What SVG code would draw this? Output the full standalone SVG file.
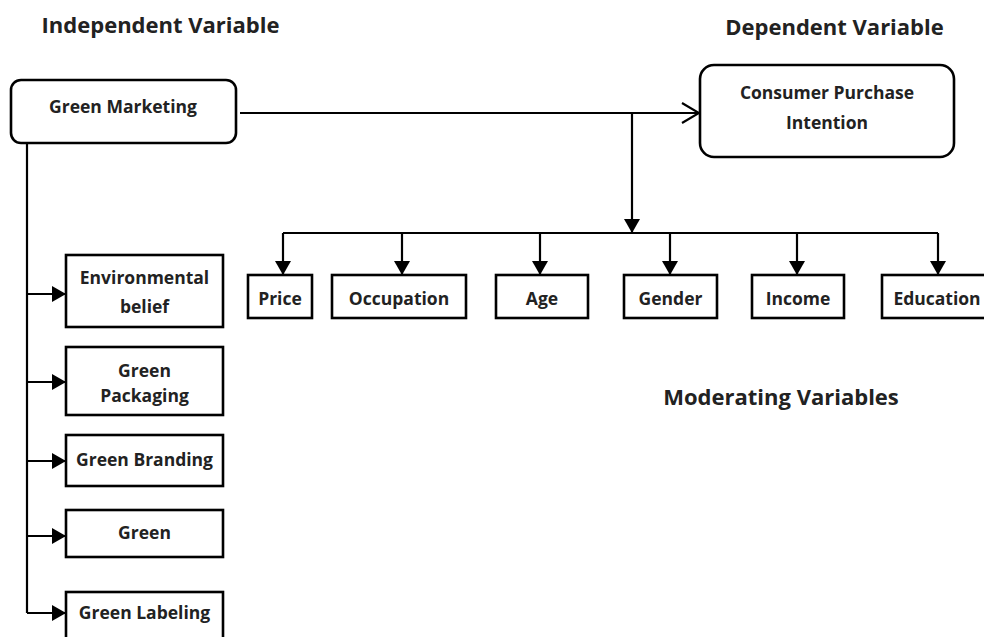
<svg xmlns="http://www.w3.org/2000/svg" width="984" height="637" viewBox="0 0 984 637">
<defs>
<style>
.box{fill:#fff;stroke:#000;stroke-width:2.6}
.ln{fill:none;stroke:#000;stroke-width:2.2}
.t{font-family:"Open Sans","Liberation Sans",sans-serif;font-weight:bold;font-size:17.5px;fill:#222;text-anchor:middle}
.h{font-family:"Open Sans","Liberation Sans",sans-serif;font-weight:bold;font-size:22px;fill:#222;text-anchor:middle}
</style>
<marker id="ah" viewBox="0 0 14 16" refX="14" refY="8" markerWidth="14" markerHeight="16" markerUnits="userSpaceOnUse" orient="auto">
<path d="M0,0 L14,8 L0,16 Z" fill="#000"/>
</marker>
<marker id="oh" viewBox="0 0 20 22" refX="18" refY="11" markerWidth="20" markerHeight="22" markerUnits="userSpaceOnUse" orient="auto">
<path d="M1,1 L18,11 L1,21" fill="none" stroke="#000" stroke-width="2.2"/>
</marker>
</defs>
<rect width="984" height="637" fill="#fff"/>
<text class="h" x="160.5" y="33">Independent Variable</text>
<text class="h" x="834.5" y="35">Dependent Variable</text>
<text class="h" x="781" y="405">Moderating Variables</text>
<g id="connectors">
<path class="ln" d="M240,113 H699" marker-end="url(#oh)"/>
<path class="ln" d="M632,113 V233" marker-end="url(#ah)"/>
<path class="ln" d="M283,233 H938"/>
<path class="ln" d="M283,233 V275" marker-end="url(#ah)"/>
<path class="ln" d="M402,233 V275" marker-end="url(#ah)"/>
<path class="ln" d="M540,233 V275" marker-end="url(#ah)"/>
<path class="ln" d="M670,233 V275" marker-end="url(#ah)"/>
<path class="ln" d="M797,233 V275" marker-end="url(#ah)"/>
<path class="ln" d="M938,233 V275" marker-end="url(#ah)"/>
<path class="ln" d="M27,143 V613"/>
<path class="ln" d="M27,294 H66" marker-end="url(#ah)"/>
<path class="ln" d="M27,382 H66" marker-end="url(#ah)"/>
<path class="ln" d="M27,461 H66" marker-end="url(#ah)"/>
<path class="ln" d="M27,536 H66" marker-end="url(#ah)"/>
<path class="ln" d="M27,613 H66" marker-end="url(#ah)"/>
</g>
<g id="green-marketing">
<rect class="box" x="11" y="80" width="225" height="63" rx="10"/>
<text class="t" x="123" y="113">Green Marketing</text>
</g>
<g id="consumer-purchase-intention">
<rect class="box" x="700" y="65" width="254" height="92" rx="14"/>
<text class="t" x="827" y="99">Consumer Purchase</text>
<text class="t" x="827" y="129">Intention</text>
</g>
<g id="price"><rect class="box" x="248" y="275" width="64" height="43"/><text class="t" x="280" y="305">Price</text></g>
<g id="occupation"><rect class="box" x="332" y="275" width="134" height="43"/><text class="t" x="399" y="305">Occupation</text></g>
<g id="age"><rect class="box" x="496" y="275" width="92" height="43"/><text class="t" x="542" y="305">Age</text></g>
<g id="gender"><rect class="box" x="624" y="275" width="93" height="43"/><text class="t" x="670.5" y="305">Gender</text></g>
<g id="income"><rect class="box" x="752" y="275" width="92" height="43"/><text class="t" x="798" y="305">Income</text></g>
<g id="education"><rect class="box" x="882" y="275" width="110" height="43"/><text class="t" x="937" y="305">Education</text></g>
<g id="environmental-belief"><rect class="box" x="66" y="255" width="157" height="72"/><text class="t" x="144.5" y="284">Environmental</text><text class="t" x="144.5" y="313">belief</text></g>
<g id="green-packaging"><rect class="box" x="66" y="347" width="157" height="68"/><text class="t" x="144.5" y="377">Green</text><text class="t" x="144.5" y="402">Packaging</text></g>
<g id="green-branding"><rect class="box" x="66" y="435" width="157" height="51"/><text class="t" x="144.5" y="466">Green Branding</text></g>
<g id="green"><rect class="box" x="66" y="510" width="157" height="47"/><text class="t" x="144.5" y="539">Green</text></g>
<g id="green-labeling"><rect class="box" x="66" y="592" width="157" height="60"/><text class="t" x="144.5" y="619">Green Labeling</text></g>
</svg>
